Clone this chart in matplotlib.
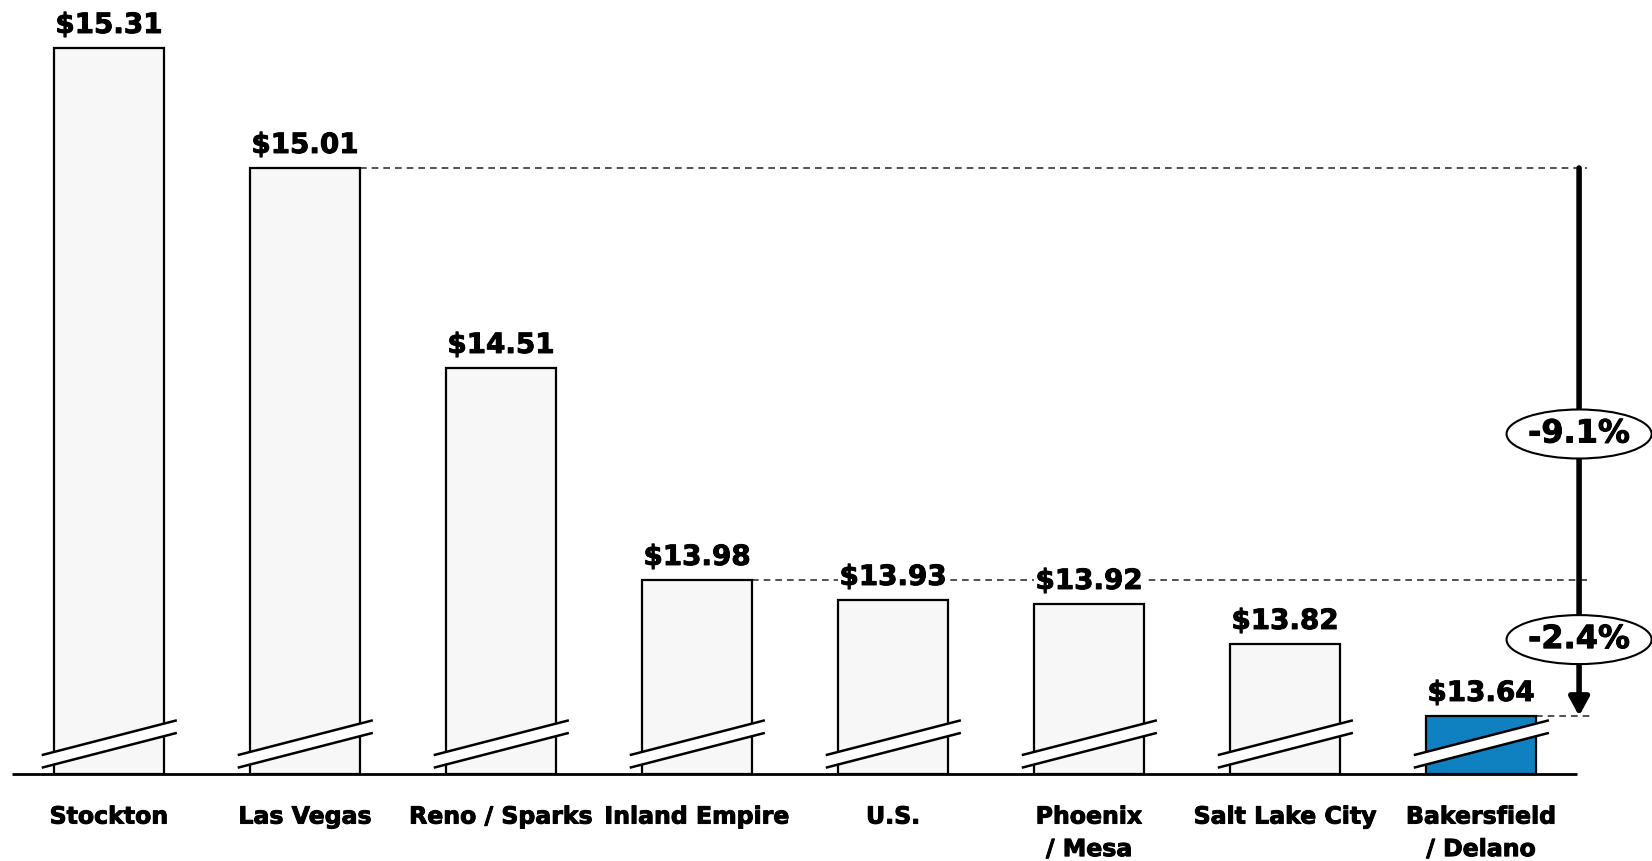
import matplotlib.pyplot as plt
import matplotlib.patheffects as pe
from matplotlib.patches import Ellipse, Polygon

# data
cities = ['Stockton', 'Las Vegas', 'Reno / Sparks', 'Inland Empire', 'U.S.',
          'Phoenix\n/ Mesa', 'Salt Lake City', 'Bakersfield\n/ Delano']
wages = [15.31, 15.01, 14.51, 13.98, 13.93, 13.92, 13.82, 13.64]
value_labels = ['$15.31', '$15.01', '$14.51', '$13.98', '$13.93', '$13.92', '$13.82', '$13.64']
gap_labels = ['-9.1%', '-2.4%']

base = 13.495  # axis is broken, bars start here
colors = ['#f7f7f7'] * 7 + ['#0f80c0']
heavy = [pe.withStroke(linewidth=0.7, foreground='black')]

fig = plt.figure(figsize=(16.52, 8.61), dpi=100)
ax = fig.add_axes([0, 0, 1, 1])
ax.set_xlim(-0.556, 7.872)
ax.set_ylim(13.2775, 15.43)
ax.axis('off')

x = range(len(cities))
heights = [w - base for w in wages]
ax.bar(x, heights, bottom=base, width=0.561, color=colors, edgecolor='black', linewidth=1.6, zorder=2)

# axis line
ax.plot([-0.495, 7.49], [base, base], color='black', lw=2, zorder=3, solid_capstyle='butt')

# break marks across each bar
for i in x:
    xl, xr = i - 0.337, i + 0.34
    top = [base + 0.048, base + 0.1335]
    bot = [base + 0.0165, base + 0.102]
    ax.add_patch(Polygon([(xl, top[0]), (xr, top[1]), (xr, bot[1]), (xl, bot[0])],
                         closed=True, facecolor='white', edgecolor='none', zorder=4))
    ax.plot([xl, xr], top, color='black', lw=1.8, zorder=5)
    ax.plot([xl, xr], bot, color='black', lw=1.8, zorder=5)

# value labels
for i, lab in zip(x, value_labels):
    ax.annotate(lab, (i, wages[i]), xytext=(0, 6.5), textcoords='offset points',
                ha='center', va='bottom', fontsize=20, fontweight='bold', path_effects=heavy,
                bbox=dict(boxstyle='square,pad=0.05', fc='white', ec='none'), zorder=6)

# category labels
for i, lab in zip(x, cities):
    ax.annotate(lab, (i, base), xytext=(0, -22), textcoords='offset points',
                ha='center', va='top', fontsize=17, fontweight='bold', linespacing=1.45,
                path_effects=heavy)

# reference dashed lines
xa = 7.5
ax.plot([1 + 0.28, 7.54], [wages[1], wages[1]], color='#333333', lw=1.2, ls=(0, (4, 3)), zorder=1)
ax.plot([3 + 0.28, 7.54], [wages[3], wages[3]], color='#333333', lw=1.2, ls=(0, (4, 3)), zorder=1)
ax.plot([7 + 0.28, 7.56], [wages[7], wages[7]], color='#333333', lw=1.2, ls=(0, (4, 3)), zorder=1)

# arrow
ax.annotate('', xy=(xa, wages[7]), xytext=(xa, wages[1]),
            arrowprops=dict(arrowstyle='-|>,head_length=0.55,head_width=0.3', lw=4,
                            color='black', mutation_scale=20, shrinkA=0, shrinkB=0), zorder=6)

# percent bubbles
for yc, lab in zip([14.345, 13.831], gap_labels):
    ax.add_patch(Ellipse((xa, yc), 0.74, 0.1225, facecolor='white', edgecolor='black', lw=1.5, zorder=7))
    ax.text(xa, yc, lab, ha='center', va='center', fontsize=23, fontweight='bold',
            path_effects=heavy, zorder=8)

fig.savefig('out.png', dpi=100)
